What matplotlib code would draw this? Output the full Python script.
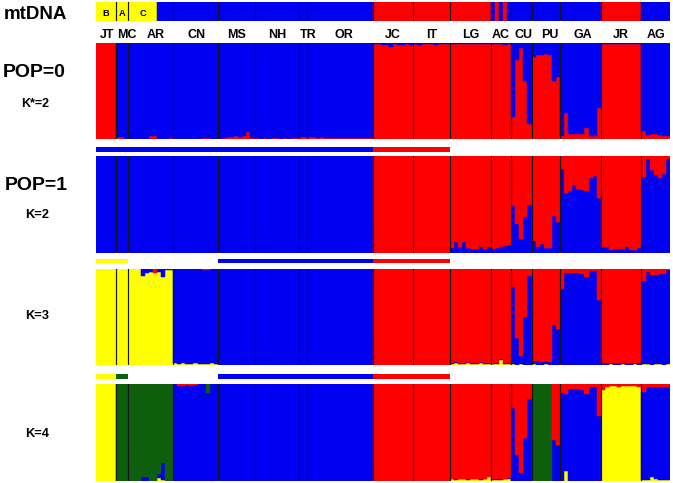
import matplotlib
matplotlib.use("Agg")
import matplotlib.pyplot as plt
import numpy as np
from matplotlib.transforms import blended_transform_factory

# ---------------- data ----------------
pops = ["JT", "MC", "AR", "CN", "MS", "NH", "TR", "OR", "JC", "IT",
        "LG", "AC", "CU", "PU", "GA", "JR", "AG"]
counts = [5, 3, 11, 11, 9, 11, 2, 16, 10, 9, 10, 5, 5, 7, 10, 10, 7]

# mtDNA haplogroup per individual (B/A/C = yellow groups, b = blue, r = red)
mtdna = {
    "JT": "BBBBB", "MC": "AAA", "AR": "CCCCCCCbbbb", "CN": "bbbbbbbbbbb",
    "MS": "bbbbbbbbb", "NH": "bbbbbbbbbbb", "TR": "bb", "OR": "bbbbbbbbbbbbbbbb",
    "JC": "rrrrrrrrrr", "IT": "rrrrrrrrr", "LG": "rrrrrrrrrr", "AC": "brbrb",
    "CU": "bbbbb", "PU": "bbbbbbb", "GA": "bbbbbbbbbb", "JR": "rrrrrrrrrr",
    "AG": "bbbbbbb",
}

# POP=0, K*=2 : red membership (blue = remainder)
pop0_red = {
    "JT": [1, 1, 1, 1, 1],
    "MC": [0.02, 0.02, 0.0],
    "AR": [0, 0, 0, 0, 0, 0.03, 0.03, 0, 0, 0, 0.01],
    "CN": [0, 0, 0, 0, 0, 0, 0, 0.01, 0.01, 0, 0],
    "MS": [0.005, 0.01, 0.02, 0.025, 0.03, 0.025, 0.03, 0.08, 0.01],
    "NH": [0.01, 0.005, 0.01, 0.005, 0.01, 0.01, 0.005, 0.01, 0.005, 0.01, 0.01],
    "TR": [0.02, 0.02],
    "OR": [0.02, 0.02, 0.015, 0.02, 0.01, 0.01, 0.015, 0.01, 0.01, 0.01, 0.015, 0.01, 0.01, 0.01, 0.01, 0.01],
    "JC": [0.985, 0.985, 0.98, 0.975, 0.96, 0.985, 0.98, 0.98, 0.985, 0.98],
    "IT": [0.985, 0.98, 0.985, 0.99, 0.985, 0.98, 0.985, 0.99, 0.985],
    "LG": [0.99, 0.985, 0.99, 0.985, 0.99, 0.99, 0.985, 0.99, 0.99, 0.985],
    "AC": [0.985, 0.99, 0.985, 0.98, 0.985],
    "CU": [0.23, 0.82, 0.94, 0.60, 0.16],
    "PU": [0.85, 0.87, 0.87, 0.88, 0.87, 0.60, 0.64],
    "GA": [0.03, 0.27, 0.05, 0.05, 0.05, 0.06, 0.12, 0.03, 0.03, 0.32],
    "JR": [0.985, 0.99, 0.985, 0.99, 0.99, 0.985, 0.99, 0.99, 0.985, 0.99],
    "AG": [0.09, 0.04, 0.05, 0.05, 0.04, 0.03, 0.03],
}

# POP=1, K=2 : blue membership (red = remainder)
k2_blue = {
    "JT": [1, 1, 1, 1, 1],
    "MC": [1, 1, 1],
    "AR": [1, 1, 1, 1, 1, 1, 1, 1, 1, 1, 1],
    "CN": [1, 1, 1, 1, 1, 1, 1, 1, 1, 1, 1],
    "MS": [1, 1, 1, 1, 1, 1, 1, 1, 1],
    "NH": [1, 1, 1, 1, 1, 1, 1, 1, 1, 1, 1],
    "TR": [1, 1],
    "OR": [1, 1, 1, 1, 1, 1, 1, 1, 1, 1, 1, 1, 1, 1, 1, 1],
    "JC": [0, 0, 0, 0, 0, 0, 0, 0, 0, 0],
    "IT": [0, 0, 0, 0, 0, 0, 0, 0, 0],
    "LG": [0.05, 0.11, 0.06, 0.11, 0.05, 0.04, 0.04, 0.06, 0.035, 0.055],
    "AC": [0.035, 0.05, 0.055, 0.065, 0.08],
    "CU": [0.48, 0.30, 0.14, 0.37, 0.49],
    "PU": [0.12, 0.055, 0.09, 0.045, 0.045, 0.38, 0.32],
    "GA": [0.87, 0.62, 0.64, 0.70, 0.655, 0.65, 0.64, 0.77, 0.79, 0.57],
    "JR": [0.06, 0.055, 0.03, 0.035, 0.04, 0.04, 0.055, 0.03, 0.03, 0.045],
    "AG": [0.78, 0.965, 0.86, 0.80, 0.77, 0.81, 0.965],
}

# K=3 : yellow and red membership (blue = remainder)
k3_yellow = {
    "JT": [1, 1, 1, 1, 1],
    "MC": [1, 1, 1],
    "AR": [1, 1, 1, 0.93, 0.955, 0.97, 0.96, 0.965, 0.92, 0.99, 0.99],
    "CN": [0.02, 0.01, 0.02, 0.01, 0.015, 0.02, 0.01, 0.01, 0.015, 0.02, 0.01],
    "MS": [0, 0, 0, 0, 0, 0, 0, 0, 0],
    "NH": [0, 0, 0, 0, 0, 0, 0, 0, 0, 0, 0],
    "TR": [0, 0],
    "OR": [0, 0, 0, 0, 0, 0, 0, 0, 0, 0, 0, 0, 0, 0, 0, 0],
    "JC": [0, 0, 0, 0, 0, 0, 0, 0, 0, 0],
    "IT": [0, 0, 0, 0, 0, 0, 0, 0, 0],
    "LG": [0.015, 0.02, 0.01, 0.015, 0.02, 0.01, 0.015, 0.02, 0.01, 0.015],
    "AC": [0.01, 0.015, 0.06, 0.01, 0.01],
    "CU": [0.01, 0, 0.01, 0, 0],
    "PU": [0.01, 0, 0, 0.01, 0, 0, 0],
    "GA": [0, 0, 0, 0, 0, 0, 0, 0, 0, 0],
    "JR": [0.005, 0.005, 0.01, 0.005, 0.005, 0.01, 0.005, 0.005, 0.01, 0.005],
    "AG": [0.01, 0.01, 0.005, 0.01, 0.01, 0.005, 0.01],
}
k3_red = {
    "JT": [0, 0, 0, 0, 0],
    "MC": [0, 0, 0],
    "AR": [0, 0, 0, 0, 0, 0, 0.04, 0, 0, 0, 0],
    "CN": [0, 0, 0, 0, 0, 0, 0, 0.015, 0.01, 0, 0],
    "MS": [0, 0, 0, 0, 0, 0, 0, 0, 0],
    "NH": [0, 0, 0, 0, 0, 0, 0, 0, 0, 0, 0],
    "TR": [0, 0],
    "OR": [0, 0, 0, 0, 0, 0, 0, 0, 0, 0, 0, 0, 0, 0, 0, 0],
    "JC": [1, 1, 1, 1, 1, 1, 1, 1, 1, 1],
    "IT": [1, 1, 1, 1, 1, 1, 1, 1, 1],
    "LG": [0.975, 0.97, 0.98, 0.975, 0.97, 0.98, 0.975, 0.97, 0.98, 0.975],
    "AC": [0.98, 0.975, 0.93, 0.98, 0.98],
    "CU": [0.19, 0.72, 0.90, 0.50, 0.07],
    "PU": [0.955, 0.955, 0.97, 0.955, 0.965, 0.58, 0.62],
    "GA": [0.21, 0.045, 0.04, 0.04, 0.04, 0.05, 0.08, 0.02, 0.02, 0.32],
    "JR": [0.975, 0.98, 0.975, 0.98, 0.98, 0.975, 0.98, 0.98, 0.975, 0.98],
    "AG": [0.125, 0.03, 0.065, 0.065, 0.05, 0.05, 0.015],
}

# K=4 : yellow, green and red membership (blue = remainder)
k4_yellow = {
    "JT": [1, 1, 1, 1, 1],
    "MC": [0, 0, 0],
    "AR": [0, 0, 0, 0, 0, 0, 0, 0.03, 0.01, 0, 0],
    "CN": [0, 0, 0, 0, 0, 0, 0, 0, 0, 0, 0],
    "MS": [0, 0, 0, 0, 0, 0, 0, 0, 0],
    "NH": [0, 0, 0, 0, 0, 0, 0, 0, 0, 0, 0],
    "TR": [0, 0],
    "OR": [0, 0, 0, 0, 0, 0, 0, 0, 0, 0, 0, 0, 0, 0, 0, 0],
    "JC": [0, 0, 0, 0, 0, 0, 0, 0, 0, 0],
    "IT": [0, 0, 0, 0, 0, 0, 0, 0, 0],
    "LG": [0.015, 0.01, 0.015, 0.015, 0.01, 0.015, 0.015, 0.01, 0.015, 0.04],
    "AC": [0.01, 0.01, 0.01, 0.015, 0.02],
    "CU": [0, 0, 0, 0, 0],
    "PU": [0, 0, 0, 0, 0, 0, 0],
    "GA": [0, 0.10, 0, 0, 0, 0, 0, 0, 0, 0],
    "JR": [0.94, 0.97, 0.975, 0.98, 0.97, 0.975, 0.98, 0.98, 0.98, 0.97],
    "AG": [0.01, 0.01, 0.04, 0.02, 0.01, 0.01, 0.01],
}
k4_green = {
    "JT": [0, 0, 0, 0, 0],
    "MC": [1, 1, 1],
    "AR": [1, 1, 1, 0.965, 0.965, 1, 1, 0.93, 0.82, 1, 1],
    "CN": [0, 0, 0, 0, 0, 0, 0, 0, 0.09, 0, 0],
    "MS": [0, 0, 0, 0, 0, 0, 0, 0, 0],
    "NH": [0, 0, 0, 0, 0, 0, 0, 0, 0, 0, 0],
    "TR": [0, 0],
    "OR": [0, 0, 0, 0, 0, 0, 0, 0, 0, 0, 0, 0, 0, 0, 0, 0],
    "JC": [0, 0, 0, 0, 0, 0, 0, 0, 0, 0],
    "IT": [0, 0, 0, 0, 0, 0, 0, 0, 0],
    "LG": [0, 0, 0, 0, 0, 0, 0, 0, 0, 0],
    "AC": [0, 0, 0, 0, 0],
    "CU": [0, 0, 0, 0, 0],
    "PU": [1, 1, 1, 1, 1, 0, 0],
    "GA": [0, 0, 0, 0, 0, 0, 0, 0, 0, 0],
    "JR": [0, 0, 0, 0, 0, 0, 0, 0, 0, 0],
    "AG": [0, 0, 0, 0, 0, 0, 0],
}
k4_red = {
    "JT": [0, 0, 0, 0, 0],
    "MC": [0, 0, 0],
    "AR": [0, 0, 0, 0, 0, 0, 0, 0, 0, 0, 0],
    "CN": [0, 0.02, 0.02, 0.015, 0.02, 0.01, 0, 0, 0, 0, 0],
    "MS": [0, 0, 0, 0, 0, 0, 0, 0, 0],
    "NH": [0, 0, 0, 0, 0, 0, 0, 0, 0, 0, 0],
    "TR": [0, 0],
    "OR": [0, 0, 0, 0, 0, 0, 0, 0, 0, 0, 0, 0, 0, 0, 0, 0],
    "JC": [1, 1, 1, 1, 1, 1, 1, 1, 1, 1],
    "IT": [1, 1, 1, 1, 1, 1, 1, 1, 1],
    "LG": [0.98, 0.985, 0.98, 0.98, 0.985, 0.98, 0.98, 0.985, 0.98, 0.96],
    "AC": [0.985, 0.98, 0.985, 0.98, 0.97],
    "CU": [0.25, 0.73, 0.92, 0.56, 0.15],
    "PU": [0, 0, 0, 0, 0, 0.58, 0.63],
    "GA": [0.09, 0.10, 0.055, 0.05, 0.05, 0.06, 0.10, 0.03, 0.03, 0.33],
    "JR": [0.06, 0.03, 0.025, 0.02, 0.03, 0.025, 0.02, 0.02, 0.02, 0.03],
    "AG": [0.08, 0.03, 0.03, 0.03, 0.03, 0.03, 0.03],
}

# group bars between panels (cluster code per population, "" = none)
group_line1 = ["b", "b", "b", "b", "b", "b", "b", "b", "r", "r", "", "", "", "", "", "", ""]
group_line2 = ["y", "y", "", "", "b", "b", "b", "b", "r", "r", "", "", "", "", "", "", ""]
group_line3 = ["y", "g", "", "", "b", "b", "b", "b", "r", "r", "", "", "", "", "", "", ""]

row_labels = ["mtDNA", "POP=0", "K*=2", "POP=1", "K=2", "K=3", "K=4"]

# ---------------- style / layout ----------------
RED = "#ff0000"
BLUE = "#0000f2"
YEL = "#ffff00"
GRN = "#0d5e0d"
code_col = {"b": BLUE, "r": RED, "y": YEL, "g": GRN, "B": YEL, "A": YEL, "C": YEL}
FONT = "Liberation Sans"
label_nudge_px = {"JT": 1.4, "MC": 4.5, "AR": 5.0, "CN": 1.0, "TR": 4.4, "OR": 3.7,
                  "CU": 2.2, "PU": 4.4, "GA": 2.4}

W, H = 673, 483
fig = plt.figure(figsize=(W / 100, H / 100), dpi=100)
X0, X1 = 95.7, 670.0
N = sum(counts)
bounds = np.cumsum(counts)
starts = bounds - np.array(counts)
pxw = (X1 - X0) / N

for p, c in zip(pops, counts):
    for d in (pop0_red, k2_blue, k3_yellow, k3_red, k4_yellow, k4_green, k4_red):
        assert len(d[p]) == c, p
    assert len(mtdna[p]) == c, p


def ax_px(y0, y1):
    return fig.add_axes([X0 / W, 1 - y1 / H, (X1 - X0) / W, (y1 - y0) / H])


def cat(d):
    return np.concatenate([np.asarray(d[p], dtype=float) for p in pops])


def boundaries(ax):
    for b in bounds[:-1]:
        ax.axvline(b, color="#141414", lw=0.85, zorder=5)


def finish(ax):
    ax.set_xlim(0, N)
    ax.set_ylim(0, 1)
    ax.axis("off")


def structure_panel(ax, layers):
    x = np.arange(N)
    bottom = np.zeros(N)
    for vals, col in layers:
        vals = np.clip(vals, 0, None)
        m = vals > 1e-6
        ax.bar(x[m], vals[m], width=1.0, bottom=bottom[m], align="edge",
               color=col, edgecolor=col, linewidth=0.35)
        bottom = bottom + vals
    boundaries(ax)
    finish(ax)


def group_line(ax, codes):
    for s, c, code in zip(starts, counts, codes):
        if code:
            ax.bar(s, 1, width=c, align="edge", color=code_col[code], linewidth=0)
    finish(ax)


# mtDNA bar
ax_mt = ax_px(1.7, 20.7)
hap = "".join(mtdna[p] for p in pops)
cols = [code_col[h] for h in hap]
ax_mt.bar(np.arange(N), np.ones(N), width=1.0, align="edge", color=cols,
          edgecolor=cols, linewidth=0.35)
boundaries(ax_mt)
finish(ax_mt)
for letter in "BAC":
    idx = [i for i, h in enumerate(hap) if h == letter]
    ax_mt.text(np.mean(idx) + 0.5, 0.26, letter, ha="center", va="baseline",
               fontsize=6.7, fontweight="bold", family=FONT)

# POP=0
ax0 = ax_px(42.7, 139.3)
r0 = cat(pop0_red)
structure_panel(ax0, [(r0, RED), (1 - r0, BLUE)])

# line 1
group_line(ax_px(146.7, 151.7), group_line1)

# K=2
ax2 = ax_px(156.0, 252.7)
b2 = cat(k2_blue)
structure_panel(ax2, [(b2, BLUE), (1 - b2, RED)])

group_line(ax_px(259.0, 263.3), group_line2)

# K=3
ax3 = ax_px(269.0, 365.3)
y3, r3 = cat(k3_yellow), cat(k3_red)
structure_panel(ax3, [(y3, YEL), (1 - y3 - r3, BLUE), (r3, RED)])

group_line(ax_px(374.3, 378.7), group_line3)

# K=4
ax4 = ax_px(384.0, 480.7)
y4, g4, r4 = cat(k4_yellow), cat(k4_green), cat(k4_red)
structure_panel(ax4, [(y4, YEL), (1 - y4 - g4 - r4, BLUE), (g4, GRN), (r4, RED)])

# population labels
tr = blended_transform_factory(ax0.transData, fig.transFigure)
for p, s, c in zip(pops, starts, counts):
    xc = s + c / 2 + label_nudge_px.get(p, 0.0) / pxw
    ax0.text(xc, 1 - 38.3 / H, p, transform=tr, ha="center", va="baseline",
             fontsize=9, fontweight="bold", family=FONT)

# row labels (x centre px, baseline px, size)
row_pos = [(35.3, 19.3, 13.5), (34.0, 77.3, 14), (35.0, 106.7, 9),
           (36.0, 190.0, 14), (37.0, 217.7, 9.3), (37.0, 319.3, 9.3), (37.0, 436.7, 9.3)]
for txt, (x, y, s) in zip(row_labels, row_pos):
    fig.text(x / W, 1 - y / H, txt, ha="center", va="baseline", fontsize=s,
             fontweight="bold", family=FONT)

fig.savefig("out.png", dpi=100)
